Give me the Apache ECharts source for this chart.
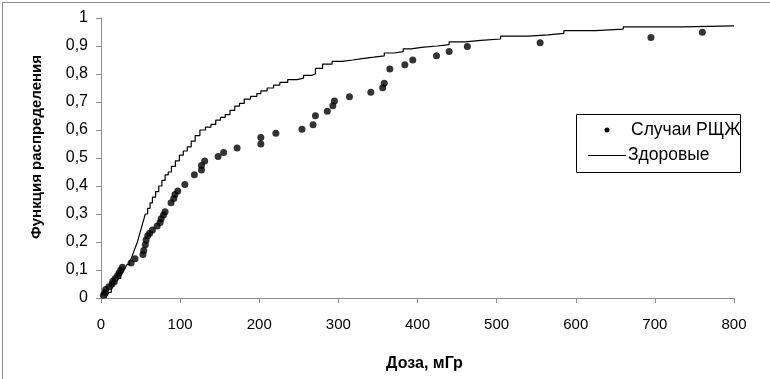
<!DOCTYPE html>
<html>
<head>
<meta charset="utf-8">
<script src="https://cdn.jsdelivr.net/npm/echarts@6/dist/echarts.min.js"></script>
<style>
html,body{margin:0;padding:0;background:#fff;}
#c{width:770px;height:379px;}
</style>
</head>
<body>
<div id="c"></div>
<script>
// Cases (Случаи РЩЖ): dose, F
var caseDose = [3,5,6,10,14,15,18,21,23,25,27,38,43,53,54,56,57,59,61.5,65,71,74.6,76,79,81,88.5,92,93.5,97,106,118,127,127,131,148,155,172,202,202,221,254,268,271,286,293,295,314,341,356,358,365,384,394,424,440,463,555,695,760];
var caseF    = [0.01,0.02,0.03,0.04,0.05,0.06,0.07,0.08,0.09,0.10,0.11,0.125,0.14,0.155,0.17,0.19,0.207,0.222,0.231,0.243,0.257,0.27,0.283,0.296,0.308,0.34,0.355,0.37,0.382,0.405,0.44,0.457,0.473,0.489,0.505,0.52,0.536,0.55,0.573,0.588,0.603,0.619,0.651,0.667,0.687,0.704,0.719,0.735,0.751,0.767,0.818,0.833,0.85,0.865,0.88,0.898,0.912,0.93,0.949];
// Healthy (Здоровые): empirical distribution steps
var healthyDose = [6,8,10,13,15,17,20,22,25,27,29,31,33,36,38,40,42,44,46,48,50,52,54,56,59,62,65,69,73,77,81,85,89,94,99,104,109,114,119,125,132,139,145,151,157,163,169,175,181,189,197,202,210,218,226,236,248,256,266,271,280,292,305,318,330,345,358,370,382,392,405,425,440,460,480,505,540,565,585,625,660,735,800];
var healthyF    = [0,0.01,0.02,0.03,0.04,0.05,0.06,0.07,0.08,0.09,0.10,0.11,0.12,0.13,0.14,0.155,0.17,0.185,0.20,0.22,0.24,0.26,0.28,0.30,0.32,0.34,0.36,0.38,0.40,0.42,0.44,0.45,0.47,0.49,0.51,0.525,0.54,0.56,0.58,0.60,0.61,0.62,0.635,0.645,0.655,0.67,0.685,0.695,0.71,0.72,0.73,0.74,0.75,0.76,0.77,0.78,0.785,0.795,0.80,0.82,0.835,0.845,0.85,0.855,0.86,0.865,0.875,0.88,0.89,0.895,0.90,0.905,0.915,0.92,0.925,0.935,0.94,0.945,0.955,0.96,0.968,0.972,0.972];
var seriesNames = ['Случаи РЩЖ','Здоровые'];
var xTitle = 'Доза, мГр';
var yTitle = 'Функция распределения';

var caseData = caseDose.map(function(d,i){return [d, caseF[i]];});
var healthyData = healthyDose.map(function(d,i){return [d, healthyF[i]];});

var chart = echarts.init(document.getElementById('c'), null, {renderer:'canvas'});
var font = '"Liberation Sans", Arial, sans-serif';
chart.setOption({
  animation:false,
  backgroundColor:'#fff',
  textStyle:{fontFamily:font},
  grid:{left:101, right:36, top:18, bottom:81, containLabel:false},
  xAxis:{
    type:'value', min:0, max:800, interval:100,
    name:xTitle, nameLocation:'middle', nameGap:58,
    nameTextStyle:{fontFamily:font, fontSize:16, fontWeight:'bold', color:'#000', padding:[0,0,0,14]},
    axisLine:{show:true, lineStyle:{color:'#8c8c8c', width:1}},
    axisTick:{show:true, length:5, lineStyle:{color:'#8c8c8c'}},
    axisLabel:{fontFamily:font, fontSize:15, color:'#000', margin:19},
    splitLine:{show:false}
  },
  yAxis:{
    type:'value', min:0, max:1, interval:0.1,
    name:yTitle, nameLocation:'middle', nameGap:57,
    nameTextStyle:{fontFamily:font, fontSize:15, fontWeight:'bold', color:'#000', padding:[0,0,0,22]},
    axisLine:{show:true, lineStyle:{color:'#8c8c8c', width:1}},
    axisTick:{show:true, length:5, lineStyle:{color:'#8c8c8c'}},
    axisLabel:{fontFamily:font, fontSize:16, color:'#000', margin:13,
      formatter:function(v){return String(Math.round(v*10)/10).replace('.',',');}},
    splitLine:{show:false}
  },
  series:[
    {name:seriesNames[1], type:'line', step:'end', data:healthyData, showSymbol:false, symbol:'none',
     lineStyle:{color:'#000', width:1.2}, z:2},
    {name:seriesNames[0], type:'scatter', data:caseData, symbol:'circle', symbolSize:7,
     itemStyle:{color:'#000'}, z:3}
  ],
  graphic:[
    {type:'rect', left:0, top:0, shape:{x:0.5,y:0.5,width:769,height:378}, style:{fill:null, stroke:'#8c8c8c', lineWidth:1}, silent:true},
    {type:'group', left:576, top:114, children:[
      {type:'rect', shape:{x:0.5,y:0.5,width:164,height:58}, style:{fill:'#fff', stroke:'#000', lineWidth:1}},
      {type:'circle', shape:{cx:31, cy:16, r:2.5}, style:{fill:'#000'}},
      {type:'text', x:55, y:16, style:{text:seriesNames[0], font:'17.5px "Liberation Sans", Arial, sans-serif', fill:'#000', verticalAlign:'middle'}},
      {type:'line', shape:{x1:12, y1:41.5, x2:50, y2:41.5}, style:{stroke:'#000', lineWidth:1.2}},
      {type:'text', x:52, y:41, style:{text:seriesNames[1], font:'17.5px "Liberation Sans", Arial, sans-serif', fill:'#000', verticalAlign:'middle'}}
    ]}
  ]
});
</script>
</body>
</html>
